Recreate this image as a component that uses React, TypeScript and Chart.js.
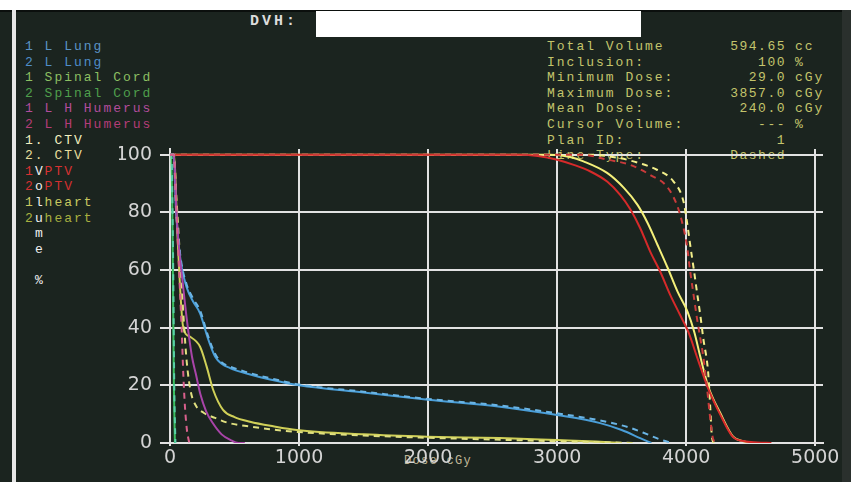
import React, { useEffect, useRef } from "react";
import { Chart, registerables } from "chart.js";
Chart.register(...registerables);

// ---- axis ticks ----
const xTicks = [0, 1000, 2000, 3000, 4000, 5000];
const yTicks = [0, 20, 40, 60, 80, 100];

// ---- DVH curves (dose cGy, volume %) ----
const lungDose1 = [0, 30, 45, 65, 90, 129, 180, 233, 296, 349, 400, 465, 600, 775, 1000, 1500, 2000, 2558, 3000, 3333, 3500, 3643, 3730];
const lungVol1 = [100, 100, 82, 70, 61, 54, 49, 45, 36, 30, 27.5, 26, 24, 22, 20, 17.5, 15, 12.6, 9.7, 6.9, 4.5, 1.7, 0];
const lungDose2 = [0, 30, 45, 65, 90, 129, 180, 233, 296, 349, 400, 465, 600, 775, 1000, 1500, 2000, 2558, 3000, 3333, 3550, 3700, 3800, 3890];
const lungVol2 = [100, 100, 83, 71, 62, 55, 50, 46, 37, 31, 28, 26.5, 24.5, 22.5, 20.3, 17.8, 15.3, 13, 10.3, 7.8, 5.5, 3, 1.2, 0];

const cordDose1 = [0, 10, 18, 24, 30, 38];
const cordVol1 = [100, 100, 80, 50, 20, 0];
const cordDose2 = [0, 12, 20, 27, 33, 42];
const cordVol2 = [100, 100, 80, 50, 20, 0];

const humDose1 = [0, 30, 50, 65, 100, 130, 170, 200, 235, 280, 330, 400, 470, 530, 580];
const humVol1 = [100, 100, 80, 70, 55, 43, 30, 24, 17, 11, 7, 3, 1, 0, 0];
const humDose2 = [0, 30, 45, 60, 75, 90, 103, 116, 130, 140, 150];
const humVol2 = [100, 100, 85, 70, 55, 40, 24, 12.5, 5, 2, 0];

const ctvDose1 = [0, 2950, 3100, 3204, 3387, 3517, 3623, 3700, 3778, 3856, 3933, 4010, 4062, 4109, 4171, 4264, 4364, 4450, 4500];
const ctvVol1 = [100, 100, 99.2, 97.7, 93.7, 88.5, 82.6, 76.4, 68.7, 60.8, 52.5, 45.6, 38.6, 30, 19.6, 10.4, 2.2, 0.5, 0];
const ctvDose2 = [0, 3250, 3465, 3643, 3773, 3902, 3979, 4005, 4031, 4057, 4083, 4109, 4132, 4171, 4186, 4199, 4215];
const ctvVol2 = [100, 100, 99, 97, 94.8, 90.7, 83.8, 77, 68.7, 60.8, 52.5, 44.4, 36.4, 24, 12.6, 2.2, 0];

const ptvDose1 = [0, 2700, 2850, 3000, 3129, 3258, 3387, 3490, 3568, 3643, 3721, 3798, 3876, 3953, 4016, 4090, 4165, 4260, 4360, 4450, 4550, 4660];
const ptvVol1 = [100, 100, 99.6, 98.3, 96.5, 94.2, 90.7, 86, 81, 74.6, 66.4, 59.5, 51.4, 44.4, 38.6, 29, 19.5, 10.2, 2.2, 0.6, 0.2, 0];
const ptvDose2 = [0, 3200, 3387, 3566, 3721, 3850, 3928, 3966, 4005, 4031, 4057, 4083, 4109, 4132, 4160, 4185, 4205, 4225];
const ptvVol2 = [100, 100, 98.3, 96.5, 93, 89, 82.6, 77, 68.7, 59.5, 51.4, 43.4, 36.4, 30, 19.6, 9, 2, 0];

const heartDose1 = [0, 30, 60, 101, 150, 233, 284, 335, 411, 500, 620, 800, 982, 1500, 1990, 2558, 3000, 3300, 3500];
const heartVol1 = [100, 100, 70, 40.5, 37, 33.4, 26.5, 18.4, 11.5, 9, 7.4, 5.8, 4.5, 3, 2.2, 1.7, 1, 0.5, 0];
const heartDose2 = [0, 30, 50, 70, 90, 110, 130, 160, 200, 260, 349, 450, 620, 827, 1000, 1500, 2000, 2500, 3000, 3300, 3600];
const heartVol2 = [100, 100, 85, 70, 55, 40, 28, 18, 13, 10.5, 8.7, 7, 5.7, 4.5, 3.8, 2.6, 1.8, 1.2, 0.6, 0.3, 0];

// ---- legend (structure list) ----
const legendLabels = ["1 L Lung", "2 L Lung", "1 Spinal Cord", "2 Spinal Cord", "1 L H Humerus", "2 L H Humerus", "1. CTV", "2. CTV", "1 PTV", "2 PTV", "1 heart", "2 heart"];
const legendColors = ["#5a93c6", "#4f8cc8", "#8cbf62", "#4f9f4c", "#b24c9c", "#b43c78", "#f2f0c0", "#e6dd9c", "#d83232", "#d23030", "#c8c860", "#a8b040"];
const axisTitleY = ["V", "o", "l", "u", "m", "e", " ", "%"];

// ---- info panel ----
const infoLabels = ["Total Volume", "Inclusion:", "Minimum Dose:", "Maximum Dose:", "Mean Dose:", "Cursor Volume:", "Plan ID:", "Line Type:"];
const infoValues = ["594.65", "100", "29.0", "3857.0", "240.0", "---", "1", "Dashed"];
const infoUnits = ["cc", "%", "cGy", "cGy", "cGy", "%", "", ""];

const pts = (d: number[], v: number[]) => d.map((x, i) => ({ x, y: v[i] }));

const ROW0 = 39;
const ROWH = 15.6;

export default function App() {
  const ref = useRef<HTMLCanvasElement | null>(null);

  useEffect(() => {
    if (!ref.current) return;
    const solid = (label: string, data: any, color: string) => ({ label, data, borderColor: color, borderWidth: 2, pointRadius: 0, fill: false });
    const dashed = (label: string, data: any, color: string) => ({ label, data, borderColor: color, borderWidth: 2, pointRadius: 0, fill: false, borderDash: [6, 5] });
    const tickFont = { family: "DejaVu Sans", size: 19 };
    const chart = new Chart(ref.current, {
      type: "line",
      data: {
        datasets: [
          dashed("2 L H Humerus", pts(humDose2, humVol2), "#d8608c"),
          solid("1 L H Humerus", pts(humDose1, humVol1), "#a844a8"),
          dashed("2 Spinal Cord", pts(cordDose2, cordVol2), "#58d0a8"),
          solid("1 Spinal Cord", pts(cordDose1, cordVol1), "#3cc060"),
          dashed("2 L Lung", pts(lungDose2, lungVol2), "#6ab4e4"),
          solid("1 L Lung", pts(lungDose1, lungVol1), "#4a9ed8"),
          dashed("2 heart", pts(heartDose2, heartVol2), "#e0e080"),
          solid("1 heart", pts(heartDose1, heartVol1), "#d0d058"),
          dashed("2 PTV", pts(ptvDose2, ptvVol2), "#c83a3a"),
          solid("1 PTV", pts(ptvDose1, ptvVol1), "#d62a2a"),
          dashed("2. CTV", pts(ctvDose2, ctvVol2), "#f2ee8a"),
          solid("1. CTV", pts(ctvDose1, ctvVol1), "#f4f07a"),
        ],
      },
      options: {
        animation: false,
        responsive: false,
        devicePixelRatio: 1,
        layout: { padding: { left: 119, top: 149, right: 28, bottom: 9 } },
        plugins: { legend: { display: false }, tooltip: { enabled: false } },
        elements: { line: { cubicInterpolationMode: "monotone" } },
        scales: {
          x: {
            type: "linear",
            min: 0,
            max: 5060,
            afterBuildTicks: (s: any) => { s.ticks = xTicks.map((v) => ({ value: v })); },
            afterFit: (s: any) => { s.height = 30; },
            grid: { color: "#e2e2e2", lineWidth: 2, tickLength: 3 },
            border: { color: "#e2e2e2", width: 2 },
            ticks: { color: "#d4d4d4", font: tickFont, padding: 1, maxRotation: 0, autoSkip: false, callback: (v: any) => String(v) },
          },
          y: {
            type: "linear",
            min: 0,
            max: 102,
            afterBuildTicks: (s: any) => { s.ticks = yTicks.map((v) => ({ value: v })); },
            afterFit: (s: any) => { s.width = 51; },
            grid: { color: "#e2e2e2", lineWidth: 2, tickLength: 10 },
            border: { color: "#e2e2e2", width: 2 },
            ticks: { color: "#d4d4d4", font: tickFont, padding: 8, autoSkip: false, callback: (v: any) => String(v) },
          },
        },
      },
    } as any);
    return () => chart.destroy();
  }, []);

  const mono: React.CSSProperties = { fontFamily: "'Liberation Mono', 'DejaVu Sans Mono', monospace", fontSize: 13, letterSpacing: 2, lineHeight: `${ROWH}px`, whiteSpace: "pre", position: "absolute" };

  return (
    <div style={{ position: "absolute", left: 0, top: 0, width: 851, height: 482, background: "#ffffff", overflow: "hidden" }}>
      <div style={{ position: "absolute", left: 0, top: 10, width: 851, height: 472, background: "#1b241f" }} />
      <div style={{ position: "absolute", left: 0, top: 10, width: 851, height: 2, background: "#0b0f0d" }} />
      <div style={{ position: "absolute", left: 12, top: 10, width: 4, height: 472, background: "#e6e6e6" }} />
      <div style={{ position: "absolute", left: 842, top: 10, width: 9, height: 472, background: "#2a302d" }} />

      <div style={{ ...mono, left: 250, top: 13, fontSize: 15, letterSpacing: 3, lineHeight: "18px", color: "#dcdcdc", fontWeight: "bold" }}>DVH:</div>
      <div style={{ position: "absolute", left: 316, top: 11, width: 325, height: 26, background: "#ffffff" }} />

      {legendLabels.map((t, i) => (
        <div key={"l" + i} style={{ ...mono, left: 25, top: ROW0 + i * ROWH, color: legendColors[i] }}>{t}</div>
      ))}
      {axisTitleY.map((c, i) => (
        <div key={"v" + i} style={{ ...mono, left: 35, top: ROW0 + (8 + i) * ROWH, color: "#f0f0f0" }}>{c}</div>
      ))}

      {infoLabels.map((t, i) => (
        <div key={"i" + i} style={{ ...mono, left: 547, top: ROW0 + i * ROWH, color: "#c4c46c" }}>{t}</div>
      ))}
      {infoValues.map((t, i) => (
        <div key={"iv" + i} style={{ ...mono, right: 851 - 786, top: ROW0 + i * ROWH, color: "#c4c46c", textAlign: "right", letterSpacing: 1.5 }}>{t}</div>
      ))}
      {infoUnits.map((t, i) => (
        <div key={"iu" + i} style={{ ...mono, left: 795, top: ROW0 + i * ROWH, color: "#c4c46c" }}>{t}</div>
      ))}

      <div style={{ ...mono, left: 404, top: 454, fontSize: 12, letterSpacing: 1.3, color: "#c0b898" }}>Dose cGy</div>

      <canvas ref={ref} width={851} height={482} style={{ position: "absolute", left: 0, top: 0, width: 851, height: 482 }} />
    </div>
  );
}
